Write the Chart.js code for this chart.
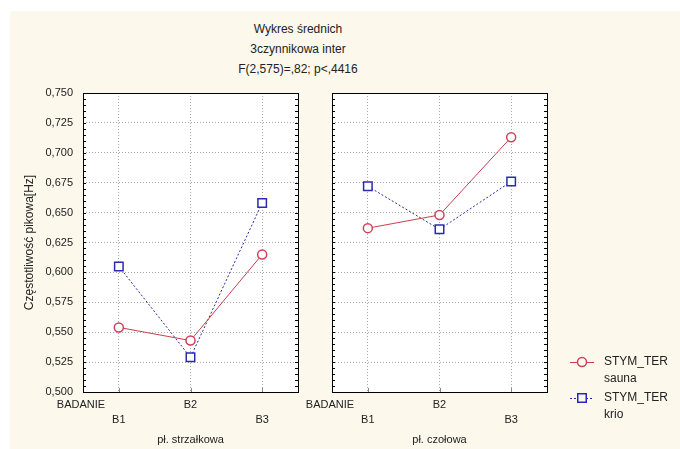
<!DOCTYPE html>
<html>
<head>
<meta charset="utf-8">
<script src="https://cdn.jsdelivr.net/npm/chart.js@4.4.1/dist/chart.umd.min.js"></script>
<style>
  body { margin: 0; background: #fff; }
  #wrap { position: relative; width: 680px; height: 449px; overflow: hidden; }
  #paper { position: absolute; left: 10px; top: 11px; right: 0; bottom: 0; background: #fcf8ec; }
  canvas { position: absolute; top: 0; }
  #title { position: absolute; left: 198px; width: 200px; top: 19px; text-align: center;
           font: 12px "Liberation Sans", Arial, sans-serif; color: #222; line-height: 20px; }
</style>
</head>
<body>
<div id="wrap">
  <div id="paper"></div>
  <div id="title">Wykres średnich<br>3czynnikowa inter<br>F(2,575)=,82; p&lt;,4416</div>
  <canvas id="left" width="310" height="449" style="left:0px"></canvas>
  <canvas id="right" width="380" height="449" style="left:300px"></canvas>
</div>
<script>
// categories and values
const categories = ["B1", "B2", "B3"];
const seriesNames = ["STYM_TER sauna", "STYM_TER krio"];
const panelTitles = ["pł. strzałkowa", "pł. czołowa"];

const saunaStrzalkowa = [0.554, 0.543, 0.615];
const krioStrzalkowa = [0.605, 0.529, 0.658];
const saunaCzolowa = [0.637, 0.648, 0.713];
const krioCzolowa = [0.672, 0.636, 0.676];

const yMin = 0.5, yMax = 0.75, yStep = 0.025;

const font = "'Liberation Sans', Arial, sans-serif";

// white plot area + black frame + inner minor ticks + BADANIE label
const framePlugin = {
  id: "frame",
  beforeDraw(chart) {
    const a = chart.chartArea, ctx = chart.ctx;
    ctx.save();
    ctx.fillStyle = "#fff";
    ctx.fillRect(a.left, a.top, a.right - a.left, a.bottom - a.top);
    ctx.restore();
  },
  afterDatasetsDraw(chart) {
    const a = chart.chartArea, ctx = chart.ctx;
    const y = chart.scales.y, x = chart.scales.x;
    ctx.save();
    ctx.strokeStyle = "#000";
    ctx.lineWidth = 1;
    ctx.strokeRect(Math.round(a.left) + 0.5, Math.round(a.top) + 0.5,
      Math.round(a.right - a.left), Math.round(a.bottom - a.top));
    ctx.beginPath();
    for (let v = yMin; v <= yMax + 1e-9; v += 0.005) {
      const py = Math.round(y.getPixelForValue(v)) + 0.5;
      ctx.moveTo(a.left, py); ctx.lineTo(a.left + 3, py);
      ctx.moveTo(a.right, py); ctx.lineTo(a.right - 3, py);
    }
    ctx.stroke();
    ctx.strokeStyle = "#888";
    ctx.beginPath();
    categories.forEach((c, i) => {
      const px = Math.round(x.getPixelForValue(i)) + 0.5;
      ctx.moveTo(px, a.bottom); ctx.lineTo(px, a.bottom - 4);
    });
    ctx.stroke();
    ctx.fillStyle = "#222";
    ctx.font = "11px " + font;
    ctx.textAlign = "center";
    ctx.textBaseline = "middle";
    ctx.fillText("BADANIE", a.left - 2, a.bottom + 13);
    ctx.restore();
  }
};

// legend drawn from the datasets, to the right of the second panel
const legendPlugin = {
  id: "sideLegend",
  afterDraw(chart) {
    const ctx = chart.ctx;
    const x0 = chart.chartArea.right + 23;
    ctx.save();
    chart.data.datasets.forEach((ds, i) => {
      const yy = 362 + i * 36;
      ctx.strokeStyle = ds.borderColor;
      ctx.lineWidth = 1;
      ctx.setLineDash(ds.borderDash || []);
      ctx.beginPath();
      ctx.moveTo(x0, yy + 0.5); ctx.lineTo(x0 + 24, yy + 0.5);
      ctx.stroke();
      ctx.setLineDash([]);
      ctx.fillStyle = "#fcf8ec";
      ctx.strokeStyle = ds.pointBorderColor;
      ctx.lineWidth = ds.pointBorderWidth;
      Chart.helpers.drawPoint(ctx, {
        pointStyle: ds.pointStyle, radius: ds.pointRadius, borderWidth: ds.pointBorderWidth
      }, x0 + 12, yy);
      ctx.fillStyle = "#222";
      ctx.font = "12px " + font;
      ctx.textAlign = "left";
      ctx.textBaseline = "middle";
      const parts = ds.label.split(" ");
      ctx.fillText(parts[0], x0 + 34, yy);
      ctx.fillText(parts[1], x0 + 34, yy + 17);
    });
    ctx.restore();
  }
};

function makeDatasets(sauna, krio) {
  return [
    {
      label: seriesNames[0], data: sauna,
      borderColor: "#c8404f", borderWidth: 1,
      pointStyle: "circle", pointRadius: 4.5, pointBorderWidth: 1.5,
      pointBackgroundColor: "#fff", pointBorderColor: "#d0405a"
    },
    {
      label: seriesNames[1], data: krio,
      borderColor: "#2a2aa8", borderWidth: 1, borderDash: [2, 2],
      pointStyle: "rect", pointRadius: 6, pointBorderWidth: 1.5,
      pointBackgroundColor: "#fff", pointBorderColor: "#2a2ab0"
    }
  ];
}

function makePanel(canvasId, sauna, krio, xTitle, showY, yWidth, padRight, extraPlugins) {
  return new Chart(document.getElementById(canvasId), {
    type: "line",
    data: { labels: categories, datasets: makeDatasets(sauna, krio) },
    options: {
      responsive: false,
      animation: false,
      devicePixelRatio: 1,
      layout: { padding: { top: 93, right: padRight, left: 0, bottom: 0 } },
      plugins: { legend: { display: false }, tooltip: { enabled: false } },
      scales: {
        x: {
          offset: true,
          grid: { offset: false, color: "#a8a8a8", drawTicks: false },
          border: { display: false, dash: [1, 2] },
          ticks: {
            padding: 6, color: "#222", maxRotation: 0, autoSkip: false,
            font: { family: font, size: 11, lineHeight: 1.35 },
            callback: (v, i) => i % 2 === 1 ? [categories[i], ""] : ["", categories[i]]
          },
          title: { display: true, text: xTitle, color: "#222",
                   font: { family: font, size: 11 }, padding: { top: 2, bottom: 2 } },
          afterFit: s => { s.height = 57; }
        },
        y: {
          min: yMin, max: yMax,
          grid: { color: "#a8a8a8", drawTicks: false },
          border: { display: false, dash: [1, 2] },
          ticks: {
            display: showY, stepSize: yStep, padding: 10, color: "#222",
            font: { family: font, size: 11 },
            callback: v => v.toFixed(3).replace(".", ",")
          },
          title: { display: showY, text: "Częstotliwość pikowa[Hz]", color: "#222",
                   font: { family: font, size: 12 }, padding: { top: 22, bottom: 22 } },
          afterFit: s => { s.width = yWidth; }
        }
      }
    },
    plugins: [framePlugin].concat(extraPlugins)
  });
}

makePanel("left", saunaStrzalkowa, krioStrzalkowa, panelTitles[0], true, 83, 12, []);
makePanel("right", saunaCzolowa, krioCzolowa, panelTitles[1], false, 32, 133, [legendPlugin]);
</script>
</body>
</html>
